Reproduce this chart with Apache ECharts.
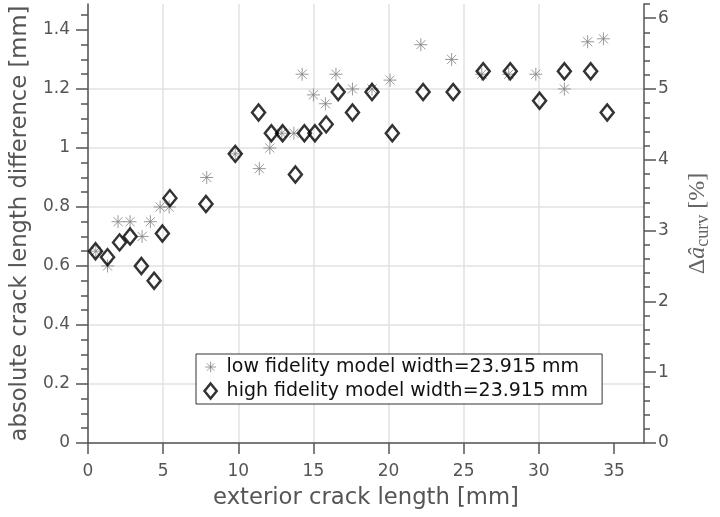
<!DOCTYPE html>
<html>
<head>
<meta charset="utf-8">
<script src="https://cdn.jsdelivr.net/npm/echarts@6/dist/echarts.min.js"></script>
<style>
html, body { margin: 0; padding: 0; background: #fff; }
#chart { width: 720px; height: 517px; }
</style>
</head>
<body>
<div id="chart"></div>
<script>
// values
var lowX  = [0.52, 1.3, 2.0, 2.8, 3.6, 4.15, 4.8, 5.4, 7.9, 9.8, 11.4, 12.1, 12.9, 13.7, 14.25, 15.0, 15.8, 16.5, 17.6, 18.9, 20.1, 22.15, 24.2, 26.2, 28.0, 29.8, 31.7, 33.25, 34.3];
var lowY  = [0.65, 0.60, 0.75, 0.75, 0.70, 0.75, 0.80, 0.80, 0.90, 0.98, 0.93, 1.00, 1.05, 1.05, 1.25, 1.18, 1.15, 1.25, 1.20, 1.20, 1.23, 1.35, 1.30, 1.25, 1.25, 1.25, 1.20, 1.36, 1.37];
var highX = [0.5, 1.3, 2.1, 2.8, 3.55, 4.4, 4.95, 5.45, 7.85, 9.8, 11.35, 12.2, 12.95, 13.8, 14.4, 15.1, 15.85, 16.65, 17.6, 18.9, 20.25, 22.3, 24.3, 26.3, 28.1, 30.05, 31.7, 33.45, 34.55];
var highY = [0.65, 0.63, 0.68, 0.70, 0.60, 0.55, 0.71, 0.83, 0.81, 0.98, 1.12, 1.05, 1.05, 0.91, 1.05, 1.05, 1.08, 1.19, 1.12, 1.19, 1.05, 1.19, 1.19, 1.26, 1.26, 1.16, 1.26, 1.26, 1.12];

var xTicks     = [0, 5, 10, 15, 20, 25, 30, 35];
var leftTicks  = [0, 0.2, 0.4, 0.6, 0.8, 1, 1.2, 1.4];
var rightTicks = [0, 1, 2, 3, 4, 5, 6];

var lowName  = 'low fidelity model width=23.915 mm';
var highName = 'high fidelity model width=23.915 mm';

// minor tick positions (between the labelled ones)
var leftMinor = [], rightMinor = [];
for (var i = 0; i <= 29; i++) leftMinor.push(+(i * 0.05).toFixed(2));
for (var j = 0; j <= 31; j++) rightMinor.push(+(j * 0.2).toFixed(1));

var AX = '#555';
var GRID = '#e2e2e2';
var starPath = 'path://M5,0L5,10M0,5L10,5M1.5,1.5L8.5,8.5M1.5,8.5L8.5,1.5';
// legend icons: extra moveTo points keep some empty room around the mark
var starIcon = 'path://M0,-2M0,12M5,0L5,10M0,5L10,5M1.5,1.5L8.5,8.5M1.5,8.5L8.5,1.5';
var diamondIcon = 'path://M6.5,0L13,8L6.5,16L0,8Z';

function pick(list) {
    return function (v) {
        for (var k = 0; k < list.length; k++) if (Math.abs(list[k] - v) < 1e-6) return String(list[k]);
        return '';
    };
}

var chart = echarts.init(document.getElementById('chart'));
chart.setOption({
    animation: false,
    textStyle: { fontFamily: 'DejaVu Sans' },
    grid: { left: 88, right: 62, top: 4, bottom: 74 },
    legend: {
        orient: 'vertical', left: 196, top: 354,
        backgroundColor: '#fff', borderColor: '#333', borderWidth: 1,
        padding: [3, 14, 3, 6], itemGap: 4, itemWidth: 22, itemHeight: 15,
        textStyle: { fontSize: 19, color: '#111' },
        data: [
            { name: lowName, icon: starIcon, itemStyle: { color: 'none', borderColor: '#808080', borderWidth: 1 } },
            { name: highName, icon: diamondIcon, itemStyle: { color: 'none', borderColor: '#000', borderWidth: 2.5 } }
        ]
    },
    xAxis: {
        type: 'value', min: 0, max: 37, interval: 5,
        axisLine: { lineStyle: { color: AX, width: 1.5 } },
        axisTick: { length: 11, lineStyle: { color: AX, width: 1.5 }, customValues: xTicks },
        axisLabel: { fontSize: 17, color: AX, margin: 20, customValues: xTicks, formatter: pick(xTicks) },
        splitLine: { show: true, showMaxLine: false, lineStyle: { color: GRID, width: 1.5 } },
        name: 'exterior crack length [mm]', nameLocation: 'middle', nameGap: 44,
        nameTextStyle: { fontSize: 22.7, color: AX }
    },
    yAxis: [{
        type: 'value', position: 'left', min: 0, max: 1.488, interval: 0.2,
        axisLine: { show: true, lineStyle: { color: AX, width: 1.5 } },
        axisTick: { show: true, length: 12, lineStyle: { color: AX, width: 1.5 }, customValues: leftTicks },
        axisLabel: { fontSize: 17, color: AX, margin: 18, customValues: leftTicks, formatter: pick(leftTicks) },
        splitLine: { show: true, showMaxLine: false, lineStyle: { color: GRID, width: 1.5 } },
        name: 'absolute crack length difference [mm]', nameLocation: 'middle', nameRotate: 90, nameGap: 52,
        nameTextStyle: { fontSize: 22.7, color: AX }
    }, {
        type: 'value', position: 'left', min: 0, max: 1.488, interval: 0.05,
        axisLine: { show: false },
        axisTick: { show: true, length: 7, lineStyle: { color: AX, width: 1.5 }, customValues: leftMinor },
        axisLabel: { show: false },
        splitLine: { show: false }
    }, {
        type: 'value', position: 'right', min: 0, max: 6.2, interval: 1,
        axisLine: { show: true, lineStyle: { color: AX, width: 1.5 } },
        axisTick: { show: true, length: 12, lineStyle: { color: AX, width: 1.5 }, customValues: rightTicks },
        axisLabel: { fontSize: 17, color: AX, margin: 14, customValues: rightTicks, formatter: pick(rightTicks) },
        splitLine: { show: false },
        name: '{d|Δ}{a|â}{s|curv}{p| [%]}', nameLocation: 'middle', nameRotate: 90, nameGap: 40,
        nameTextStyle: {
            color: '#666',
            rich: {
                d: { fontFamily: 'Liberation Serif', fontSize: 24, lineHeight: 28, color: '#666' },
                a: { fontFamily: 'Liberation Serif', fontStyle: 'italic', fontSize: 24, lineHeight: 28, color: '#666' },
                s: { fontFamily: 'Liberation Serif', fontSize: 18, lineHeight: 18, verticalAlign: 'bottom', color: '#666' },
                p: { fontFamily: 'Liberation Serif', fontSize: 24, lineHeight: 28, color: '#666' }
            }
        }
    }, {
        type: 'value', position: 'right', min: 0, max: 6.2, interval: 0.2,
        axisLine: { show: false },
        axisTick: { show: true, length: 6, lineStyle: { color: AX, width: 1.5 }, customValues: rightMinor },
        axisLabel: { show: false },
        splitLine: { show: false }
    }],
    series: [{
        name: lowName, type: 'scatter', yAxisIndex: 0,
        symbol: starPath, symbolSize: 13,
        itemStyle: { color: 'none', borderColor: '#808080', borderWidth: 1 },
        data: lowX.map(function (x, i) { return [x, lowY[i]]; }),
        z: 2
    }, {
        name: highName, type: 'scatter', yAxisIndex: 0,
        symbol: 'diamond', symbolSize: [13, 16],
        itemStyle: { color: 'none', borderColor: '#000', borderWidth: 2.5 },
        data: highX.map(function (x, i) { return [x, highY[i]]; }),
        z: 3
    }]
});
</script>
</body>
</html>
